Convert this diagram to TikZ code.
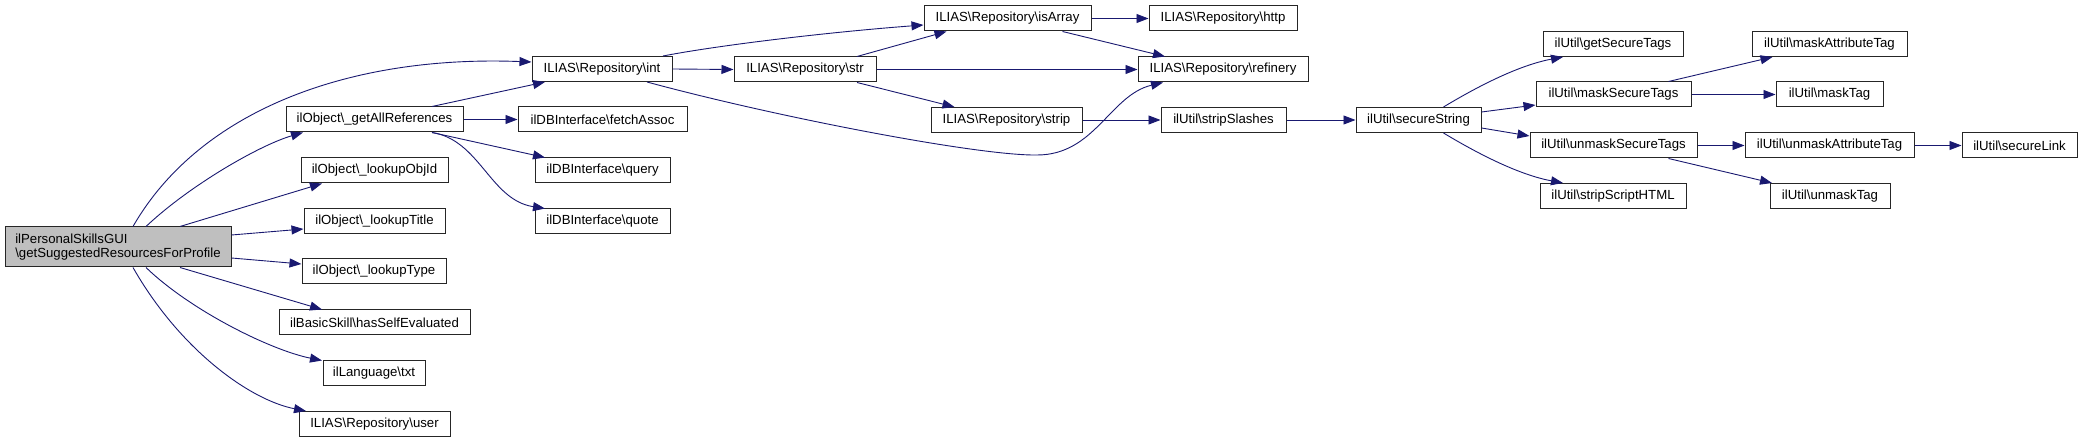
\documentclass[tikz,border=0pt]{standalone}
\usepackage{fontspec}
\setmainfont{Liberation Sans}
\usetikzlibrary{arrows.meta}
\newcommand{\rbs}{\textbackslash}
\definecolor{edgeblue}{HTML}{191970}
\definecolor{mainfill}{HTML}{BFBFBF}
\begin{document}
\begin{tikzpicture}[x=1pt,y=-1pt,
  box/.style={draw=black!85,line width=1pt,fill=white,inner sep=0pt,minimum height=25pt,
    font=\fontsize{13.2}{14.5}\selectfont},
  mainbox/.style={box,fill=mainfill,minimum height=40pt,align=left},
  call/.style={draw=edgeblue,line width=0.9pt,-{Triangle[length=12pt,width=9pt]}}]
\useasboundingbox (0,0) rectangle (2083,443);
% nodes
\node[mainbox,minimum width=226pt] (m) at (118,247) {ilPersonalSkillsGUI\\\rbs getSuggestedResourcesForProfile};
\node[box,minimum width=140pt] (int) at (602,69) {ILIAS\rbs Repository\rbs int};
\node[box,minimum width=177pt] (gar) at (374.5,119.5) {ilObject\rbs\_getAllReferences};
\node[box,minimum width=169pt] (fa) at (602.5,119.5) {ilDBInterface\rbs fetchAssoc};
\node[box,minimum width=147pt] (loi) at (374.5,170.5) {ilObject\rbs\_lookupObjId};
\node[box,minimum width=135pt] (qry) at (602.5,170.5) {ilDBInterface\rbs query};
\node[box,minimum width=141pt] (lti) at (374.5,221.5) {ilObject\rbs\_lookupTitle};
\node[box,minimum width=135pt] (quo) at (602.5,221.5) {ilDBInterface\rbs quote};
\node[box,minimum width=144pt] (lty) at (374,271.5) {ilObject\rbs\_lookupType};
\node[box,minimum width=191pt] (hse) at (374.5,322.5) {ilBasicSkill\rbs hasSelfEvaluated};
\node[box,minimum width=102pt] (txt) at (374,373.5) {ilLanguage\rbs txt};
\node[box,minimum width=151pt] (usr) at (374.5,424) {ILIAS\rbs Repository\rbs user};
\node[box,minimum width=167pt] (isa) at (1007.5,18.5) {ILIAS\rbs Repository\rbs isArray};
\node[box,minimum width=148pt] (htp) at (1223,18.5) {ILIAS\rbs Repository\rbs http};
\node[box,minimum width=142pt] (str) at (805,69.5) {ILIAS\rbs Repository\rbs str};
\node[box,minimum width=170pt] (ref) at (1223,69.5) {ILIAS\rbs Repository\rbs refinery};
\node[box,minimum width=151pt] (stp) at (1006.5,120) {ILIAS\rbs Repository\rbs strip};
\node[box,minimum width=125pt] (sts) at (1223.5,120) {ilUtil\rbs stripSlashes};
\node[box,minimum width=125pt] (sst) at (1418.5,120) {ilUtil\rbs secureString};
\node[box,minimum width=140pt] (gst) at (1613,44) {ilUtil\rbs getSecureTags};
\node[box,minimum width=155pt] (mat) at (1829.5,44) {ilUtil\rbs maskAttributeTag};
\node[box,minimum width=155pt] (mst) at (1613.5,94.5) {ilUtil\rbs maskSecureTags};
\node[box,minimum width=107pt] (mtg) at (1829.5,94.5) {ilUtil\rbs maskTag};
\node[box,minimum width=167pt] (ust) at (1613.5,145.5) {ilUtil\rbs unmaskSecureTags};
\node[box,minimum width=169pt] (uat) at (1829.5,145.5) {ilUtil\rbs unmaskAttributeTag};
\node[box,minimum width=115pt] (slk) at (2019.5,145.5) {ilUtil\rbs secureLink};
\node[box,minimum width=146pt] (ssh) at (1613,196) {ilUtil\rbs stripScriptHTML};
\node[box,minimum width=120pt] (utg) at (1830,196) {ilUtil\rbs unmaskTag};
\coordinate (low) at (1037,155);
% edges from main
\draw[call] ([xshift=15pt]m.north) .. controls (200,110) and (350,55) .. ([yshift=7pt]int.west);
\draw[call] ([xshift=28pt]m.north) .. controls (190,185) and (260,145) .. ([xshift=-71.5pt]gar.south);
\draw[call] ([xshift=62pt]m.north) -- ([xshift=-52.5pt]loi.south);
\draw[call] ([yshift=12pt]m.east) -- ([yshift=-7.5pt]lti.west);
\draw[call] ([yshift=-11pt]m.east) -- ([yshift=7.5pt]lty.west);
\draw[call] ([xshift=62pt]m.south) -- ([xshift=-52.5pt]hse.north);
\draw[call] ([xshift=28pt]m.south) .. controls (190,310) and (270,350) .. ([xshift=-52pt]txt.north);
\draw[call] ([xshift=15pt]m.south) .. controls (180,350) and (250,400) .. ([xshift=-68.5pt]usr.north);
% getAllReferences
\draw[call] ([xshift=57.5pt]gar.north) -- ([xshift=-57pt]int.south);
\draw[call] (gar.east) -- (fa.west);
\draw[call] ([xshift=57.5pt]gar.south) -- ([xshift=-57.5pt]qry.north);
\draw[call] ([xshift=57.5pt]gar.south) .. controls (480,140) and (490,200) .. ([xshift=-57.5pt]quo.north);
% int
\draw[call] ([xshift=61pt]int.north) .. controls (720,45) and (830,32) .. ([yshift=-6.5pt]isa.west);
\draw[call] (int.east) -- (str.west);
\draw[call] ([xshift=45pt]int.south) .. controls (780,118) and (980,156) .. (low)
  .. controls (1095,155) and (1110,95) .. ([xshift=-60pt]ref.south);
% str
\draw[call] ([xshift=52pt]str.north) -- ([xshift=-61pt]isa.south);
\draw[call] (str.east) -- (ref.west);
\draw[call] ([xshift=52pt]str.south) -- ([xshift=-52pt]stp.north);
% isArray
\draw[call] (isa.east) -- (htp.west);
\draw[call] ([xshift=55pt]isa.south) -- ([xshift=-58pt]ref.north);
% strip chain
\draw[call] (stp.east) -- (sts.west);
\draw[call] (sts.east) -- (sst.west);
% secureString
\draw[call] ([xshift=25pt]sst.north) .. controls (1480,85) and (1520,65) .. ([xshift=-50pt]gst.south);
\draw[call] ([yshift=8pt]sst.east) -- ([yshift=-10.5pt]mst.west);
\draw[call] ([yshift=-8pt]sst.east) -- ([yshift=9.5pt]ust.west);
\draw[call] ([xshift=25pt]sst.south) .. controls (1480,155) and (1520,175) .. ([xshift=-50pt]ssh.north);
% mask / unmask
\draw[call] ([xshift=55pt]mst.north) -- ([xshift=-57pt]mat.south);
\draw[call] (mst.east) -- (mtg.west);
\draw[call] (ust.east) -- (uat.west);
\draw[call] ([xshift=55pt]ust.south) -- ([xshift=-58pt]utg.north);
\draw[call] (uat.east) -- (slk.west);
\end{tikzpicture}
\end{document}
